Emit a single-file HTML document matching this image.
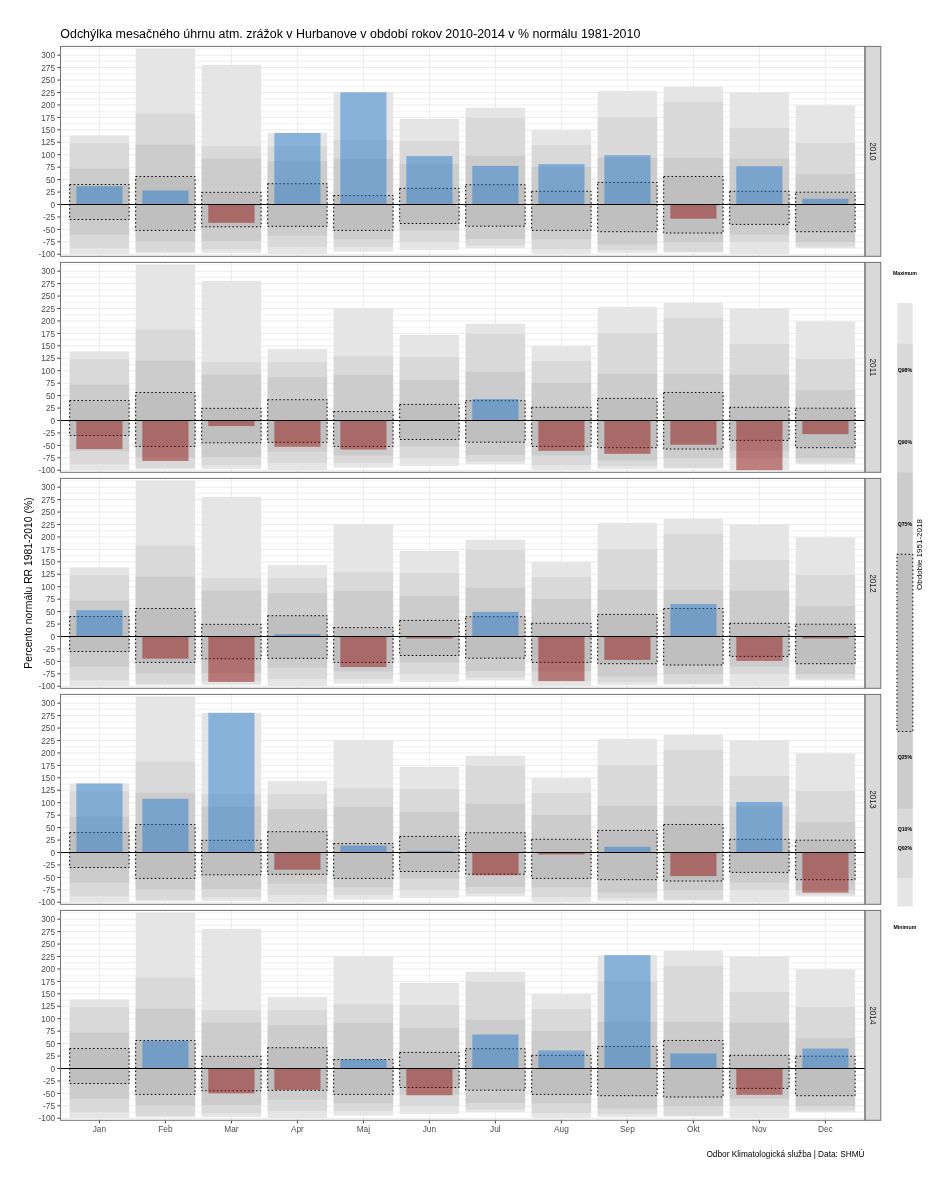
<!DOCTYPE html>
<html lang="sk">
<head>
<meta charset="utf-8">
<title>Odchýlka mesačného úhrnu atm. zrážok v Hurbanove</title>
<style>
html,body{margin:0;padding:0;background:#fff;}
body{width:933px;height:1200px;overflow:hidden;font-family:"Liberation Sans", Arial, Helvetica, sans-serif;}
svg{display:block;}
</style>
</head>
<body>
<svg width="933" height="1200" viewBox="0 0 933 1200" font-family='"Liberation Sans", Arial, Helvetica, sans-serif'>
<rect width="933" height="1200" fill="#fff"/>
<text x="60.3" y="38.3" font-size="12.44" fill="#000">Odchýlka mesačného úhrnu atm. zrážok v Hurbanove v období rokov 2010-2014 v % normálu 1981-2010</text>
<g>
<clipPath id="cp0"><rect x="60.5" y="46.4" width="804.5" height="209.9"/></clipPath>
<g clip-path="url(#cp0)">
<path d="M60.5 248.06H865M60.5 235.61H865M60.5 223.17H865M60.5 210.72H865M60.5 198.28H865M60.5 185.83H865M60.5 173.39H865M60.5 160.94H865M60.5 148.5H865M60.5 136.05H865M60.5 123.61H865M60.5 111.16H865M60.5 98.72H865M60.5 86.27H865M60.5 73.83H865M60.5 61.38H865M60.5 48.94H865" stroke="#ebebeb" stroke-width="0.7" fill="none"/>
<path d="M60.5 254.28H865M60.5 241.84H865M60.5 229.39H865M60.5 216.94H865M60.5 204.5H865M60.5 192.06H865M60.5 179.61H865M60.5 167.16H865M60.5 154.72H865M60.5 142.28H865M60.5 129.83H865M60.5 117.38H865M60.5 104.94H865M60.5 92.49H865M60.5 80.05H865M60.5 67.6H865M60.5 55.16H865M99.4 46.4V256.3M165.4 46.4V256.3M231.4 46.4V256.3M297.4 46.4V256.3M363.4 46.4V256.3M429.4 46.4V256.3M495.4 46.4V256.3M561.4 46.4V256.3M627.4 46.4V256.3M693.4 46.4V256.3M759.4 46.4V256.3M825.4 46.4V256.3" stroke="#ebebeb" stroke-width="1.0" fill="none"/>
<g fill="#e5e5e5">
<rect x="69.7" y="135.46" width="59.4" height="118.63"/>
<rect x="135.7" y="48.54" width="59.4" height="204.75"/>
<rect x="201.7" y="64.82" width="59.4" height="188.12"/>
<rect x="267.7" y="132.92" width="59.4" height="121.16"/>
<rect x="333.7" y="92.25" width="59.4" height="159.4"/>
<rect x="399.7" y="118.93" width="59.4" height="131.12"/>
<rect x="465.7" y="107.68" width="59.4" height="140.48"/>
<rect x="531.7" y="130.18" width="59.4" height="123.6"/>
<rect x="597.7" y="91.1" width="59.4" height="161.93"/>
<rect x="663.7" y="86.62" width="59.4" height="165.97"/>
<rect x="729.7" y="92.79" width="59.4" height="161.34"/>
<rect x="795.7" y="105.34" width="59.4" height="142.77"/>
</g>
<g fill="#d9d9d9">
<rect x="69.7" y="143.37" width="59.4" height="104.54"/>
<rect x="135.7" y="113.4" width="59.4" height="138.39"/>
<rect x="201.7" y="146.16" width="59.4" height="102.95"/>
<rect x="267.7" y="146.11" width="59.4" height="100.8"/>
<rect x="333.7" y="140.13" width="59.4" height="106.83"/>
<rect x="399.7" y="141.23" width="59.4" height="100.75"/>
<rect x="465.7" y="117.63" width="59.4" height="127.84"/>
<rect x="531.7" y="145.01" width="59.4" height="103.99"/>
<rect x="597.7" y="117.24" width="59.4" height="132.91"/>
<rect x="663.7" y="101.7" width="59.4" height="149.94"/>
<rect x="729.7" y="128.04" width="59.4" height="113.95"/>
<rect x="795.7" y="143.12" width="59.4" height="103.19"/>
</g>
<g fill="#cccccc">
<rect x="69.7" y="168.81" width="59.4" height="65.91"/>
<rect x="135.7" y="144.81" width="59.4" height="96.52"/>
<rect x="201.7" y="158.55" width="59.4" height="82.49"/>
<rect x="267.7" y="161.19" width="59.4" height="74.47"/>
<rect x="333.7" y="158.85" width="59.4" height="80.59"/>
<rect x="399.7" y="164.13" width="59.4" height="66.46"/>
<rect x="465.7" y="155.86" width="59.4" height="83.13"/>
<rect x="531.7" y="166.92" width="59.4" height="72.53"/>
<rect x="597.7" y="157.76" width="59.4" height="86.82"/>
<rect x="663.7" y="158.01" width="59.4" height="83.98"/>
<rect x="729.7" y="158.6" width="59.4" height="76.06"/>
<rect x="795.7" y="174.13" width="59.4" height="67.85"/>
</g>
<g fill="#bfbfbf">
<rect x="69.7" y="184.54" width="59.4" height="35"/>
<rect x="135.7" y="176.52" width="59.4" height="53.86"/>
<rect x="201.7" y="192.35" width="59.4" height="34.45"/>
<rect x="267.7" y="183.69" width="59.4" height="42.61"/>
<rect x="333.7" y="195.59" width="59.4" height="34.8"/>
<rect x="399.7" y="188.37" width="59.4" height="35.14"/>
<rect x="465.7" y="184.74" width="59.4" height="41.42"/>
<rect x="531.7" y="191.31" width="59.4" height="39.03"/>
<rect x="597.7" y="182.4" width="59.4" height="49.28"/>
<rect x="663.7" y="176.47" width="59.4" height="56.55"/>
<rect x="729.7" y="191.31" width="59.4" height="33.1"/>
<rect x="795.7" y="192.2" width="59.4" height="39.48"/>
</g>
<g fill="none" stroke="#000" stroke-width="1.0" stroke-dasharray="1.5 2.4">
<rect x="69.7" y="184.54" width="59.4" height="35"/>
<rect x="135.7" y="176.52" width="59.4" height="53.86"/>
<rect x="201.7" y="192.35" width="59.4" height="34.45"/>
<rect x="267.7" y="183.69" width="59.4" height="42.61"/>
<rect x="333.7" y="195.59" width="59.4" height="34.8"/>
<rect x="399.7" y="188.37" width="59.4" height="35.14"/>
<rect x="465.7" y="184.74" width="59.4" height="41.42"/>
<rect x="531.7" y="191.31" width="59.4" height="39.03"/>
<rect x="597.7" y="182.4" width="59.4" height="49.28"/>
<rect x="663.7" y="176.47" width="59.4" height="56.55"/>
<rect x="729.7" y="191.31" width="59.4" height="33.1"/>
<rect x="795.7" y="192.2" width="59.4" height="39.48"/>
</g>
<rect x="76.3" y="186.23" width="46.2" height="18.27" fill="#1874cd" fill-opacity="0.45"/>
<rect x="142.3" y="190.46" width="46.2" height="14.04" fill="#1874cd" fill-opacity="0.45"/>
<rect x="208.3" y="204.5" width="46.2" height="18.32" fill="#8b0000" fill-opacity="0.45"/>
<rect x="274.3" y="132.92" width="46.2" height="71.58" fill="#1874cd" fill-opacity="0.45"/>
<rect x="340.3" y="92.25" width="46.2" height="112.25" fill="#1874cd" fill-opacity="0.45"/>
<rect x="406.3" y="156.06" width="46.2" height="48.44" fill="#1874cd" fill-opacity="0.45"/>
<rect x="472.3" y="165.87" width="46.2" height="38.63" fill="#1874cd" fill-opacity="0.45"/>
<rect x="538.3" y="164.13" width="46.2" height="40.37" fill="#1874cd" fill-opacity="0.45"/>
<rect x="604.3" y="155.22" width="46.2" height="49.28" fill="#1874cd" fill-opacity="0.45"/>
<rect x="670.3" y="204.5" width="46.2" height="14.19" fill="#8b0000" fill-opacity="0.45"/>
<rect x="736.3" y="166.27" width="46.2" height="38.23" fill="#1874cd" fill-opacity="0.45"/>
<rect x="802.3" y="198.78" width="46.2" height="5.72" fill="#1874cd" fill-opacity="0.45"/>
<path d="M60.5 204.5H865" stroke="#000" stroke-width="1.0"/>
</g>
<rect x="865" y="46.4" width="15.8" height="209.9" fill="#d9d9d9" stroke="#727272" stroke-width="1.0"/>
<text transform="translate(869.8 151.35) rotate(90)" text-anchor="middle" font-size="8.29" fill="#1a1a1a">2010</text>
<rect x="60.5" y="46.4" width="804.5" height="209.9" fill="none" stroke="#727272" stroke-width="1.0"/>
<g font-size="8.29" fill="#4d4d4d" text-anchor="end">
<text x="55.1" y="257.43">-100</text>
<text x="55.1" y="244.99">-75</text>
<text x="55.1" y="232.54">-50</text>
<text x="55.1" y="220.09">-25</text>
<text x="55.1" y="207.65">0</text>
<text x="55.1" y="195.21">25</text>
<text x="55.1" y="182.76">50</text>
<text x="55.1" y="170.31">75</text>
<text x="55.1" y="157.87">100</text>
<text x="55.1" y="145.43">125</text>
<text x="55.1" y="132.98">150</text>
<text x="55.1" y="120.53">175</text>
<text x="55.1" y="108.09">200</text>
<text x="55.1" y="95.64">225</text>
<text x="55.1" y="83.2">250</text>
<text x="55.1" y="70.75">275</text>
<text x="55.1" y="58.31">300</text>
</g>
<path d="M57.41 254.28H60M57.41 241.84H60M57.41 229.39H60M57.41 216.94H60M57.41 204.5H60M57.41 192.06H60M57.41 179.61H60M57.41 167.16H60M57.41 154.72H60M57.41 142.28H60M57.41 129.83H60M57.41 117.38H60M57.41 104.94H60M57.41 92.49H60M57.41 80.05H60M57.41 67.6H60M57.41 55.16H60" stroke="#3a3a3a" stroke-width="1.0" fill="none"/>
</g>
<g>
<clipPath id="cp1"><rect x="60.5" y="262.4" width="804.5" height="209.9"/></clipPath>
<g clip-path="url(#cp1)">
<path d="M60.5 464.06H865M60.5 451.61H865M60.5 439.17H865M60.5 426.72H865M60.5 414.28H865M60.5 401.83H865M60.5 389.39H865M60.5 376.94H865M60.5 364.5H865M60.5 352.05H865M60.5 339.61H865M60.5 327.16H865M60.5 314.72H865M60.5 302.27H865M60.5 289.83H865M60.5 277.38H865M60.5 264.94H865" stroke="#ebebeb" stroke-width="0.7" fill="none"/>
<path d="M60.5 470.28H865M60.5 457.83H865M60.5 445.39H865M60.5 432.94H865M60.5 420.5H865M60.5 408.06H865M60.5 395.61H865M60.5 383.17H865M60.5 370.72H865M60.5 358.27H865M60.5 345.83H865M60.5 333.38H865M60.5 320.94H865M60.5 308.5H865M60.5 296.05H865M60.5 283.61H865M60.5 271.16H865M99.4 262.4V472.3M165.4 262.4V472.3M231.4 262.4V472.3M297.4 262.4V472.3M363.4 262.4V472.3M429.4 262.4V472.3M495.4 262.4V472.3M561.4 262.4V472.3M627.4 262.4V472.3M693.4 262.4V472.3M759.4 262.4V472.3M825.4 262.4V472.3" stroke="#ebebeb" stroke-width="1.0" fill="none"/>
<g fill="#e5e5e5">
<rect x="69.7" y="351.46" width="59.4" height="118.63"/>
<rect x="135.7" y="264.54" width="59.4" height="204.75"/>
<rect x="201.7" y="280.82" width="59.4" height="188.12"/>
<rect x="267.7" y="348.92" width="59.4" height="121.16"/>
<rect x="333.7" y="308.25" width="59.4" height="159.4"/>
<rect x="399.7" y="334.93" width="59.4" height="131.12"/>
<rect x="465.7" y="323.68" width="59.4" height="140.48"/>
<rect x="531.7" y="346.18" width="59.4" height="123.6"/>
<rect x="597.7" y="307.1" width="59.4" height="161.93"/>
<rect x="663.7" y="302.62" width="59.4" height="165.97"/>
<rect x="729.7" y="308.79" width="59.4" height="161.34"/>
<rect x="795.7" y="321.34" width="59.4" height="142.77"/>
</g>
<g fill="#d9d9d9">
<rect x="69.7" y="359.37" width="59.4" height="104.54"/>
<rect x="135.7" y="329.4" width="59.4" height="138.39"/>
<rect x="201.7" y="362.16" width="59.4" height="102.95"/>
<rect x="267.7" y="362.11" width="59.4" height="100.8"/>
<rect x="333.7" y="356.13" width="59.4" height="106.83"/>
<rect x="399.7" y="357.23" width="59.4" height="100.75"/>
<rect x="465.7" y="333.63" width="59.4" height="127.84"/>
<rect x="531.7" y="361.01" width="59.4" height="103.99"/>
<rect x="597.7" y="333.24" width="59.4" height="132.91"/>
<rect x="663.7" y="317.7" width="59.4" height="149.94"/>
<rect x="729.7" y="344.04" width="59.4" height="113.95"/>
<rect x="795.7" y="359.12" width="59.4" height="103.19"/>
</g>
<g fill="#cccccc">
<rect x="69.7" y="384.81" width="59.4" height="65.91"/>
<rect x="135.7" y="360.81" width="59.4" height="96.52"/>
<rect x="201.7" y="374.55" width="59.4" height="82.49"/>
<rect x="267.7" y="377.19" width="59.4" height="74.47"/>
<rect x="333.7" y="374.85" width="59.4" height="80.59"/>
<rect x="399.7" y="380.13" width="59.4" height="66.46"/>
<rect x="465.7" y="371.86" width="59.4" height="83.13"/>
<rect x="531.7" y="382.92" width="59.4" height="72.53"/>
<rect x="597.7" y="373.76" width="59.4" height="86.82"/>
<rect x="663.7" y="374.01" width="59.4" height="83.98"/>
<rect x="729.7" y="374.6" width="59.4" height="76.06"/>
<rect x="795.7" y="390.13" width="59.4" height="67.85"/>
</g>
<g fill="#bfbfbf">
<rect x="69.7" y="400.54" width="59.4" height="35"/>
<rect x="135.7" y="392.52" width="59.4" height="53.86"/>
<rect x="201.7" y="408.35" width="59.4" height="34.45"/>
<rect x="267.7" y="399.69" width="59.4" height="42.61"/>
<rect x="333.7" y="411.59" width="59.4" height="34.8"/>
<rect x="399.7" y="404.37" width="59.4" height="35.14"/>
<rect x="465.7" y="400.74" width="59.4" height="41.42"/>
<rect x="531.7" y="407.31" width="59.4" height="39.03"/>
<rect x="597.7" y="398.4" width="59.4" height="49.28"/>
<rect x="663.7" y="392.47" width="59.4" height="56.55"/>
<rect x="729.7" y="407.31" width="59.4" height="33.1"/>
<rect x="795.7" y="408.2" width="59.4" height="39.48"/>
</g>
<g fill="none" stroke="#000" stroke-width="1.0" stroke-dasharray="1.5 2.4">
<rect x="69.7" y="400.54" width="59.4" height="35"/>
<rect x="135.7" y="392.52" width="59.4" height="53.86"/>
<rect x="201.7" y="408.35" width="59.4" height="34.45"/>
<rect x="267.7" y="399.69" width="59.4" height="42.61"/>
<rect x="333.7" y="411.59" width="59.4" height="34.8"/>
<rect x="399.7" y="404.37" width="59.4" height="35.14"/>
<rect x="465.7" y="400.74" width="59.4" height="41.42"/>
<rect x="531.7" y="407.31" width="59.4" height="39.03"/>
<rect x="597.7" y="398.4" width="59.4" height="49.28"/>
<rect x="663.7" y="392.47" width="59.4" height="56.55"/>
<rect x="729.7" y="407.31" width="59.4" height="33.1"/>
<rect x="795.7" y="408.2" width="59.4" height="39.48"/>
</g>
<rect x="76.3" y="420.5" width="46.2" height="28.57" fill="#8b0000" fill-opacity="0.45"/>
<rect x="142.3" y="420.5" width="46.2" height="40.47" fill="#8b0000" fill-opacity="0.45"/>
<rect x="208.3" y="420.5" width="46.2" height="5.48" fill="#8b0000" fill-opacity="0.45"/>
<rect x="274.3" y="420.5" width="46.2" height="26.33" fill="#8b0000" fill-opacity="0.45"/>
<rect x="340.3" y="420.5" width="46.2" height="29.07" fill="#8b0000" fill-opacity="0.45"/>
<rect x="406.3" y="420" width="46.2" height="0.5" fill="#1874cd" fill-opacity="0.45"/>
<rect x="472.3" y="399.04" width="46.2" height="21.46" fill="#1874cd" fill-opacity="0.45"/>
<rect x="538.3" y="420.5" width="46.2" height="30.37" fill="#8b0000" fill-opacity="0.45"/>
<rect x="604.3" y="420.5" width="46.2" height="33.35" fill="#8b0000" fill-opacity="0.45"/>
<rect x="670.3" y="420.5" width="46.2" height="24.19" fill="#8b0000" fill-opacity="0.45"/>
<rect x="736.3" y="420.5" width="46.2" height="49.68" fill="#8b0000" fill-opacity="0.45"/>
<rect x="802.3" y="420.5" width="46.2" height="13.59" fill="#8b0000" fill-opacity="0.45"/>
<path d="M60.5 420.5H865" stroke="#000" stroke-width="1.0"/>
</g>
<rect x="865" y="262.4" width="15.8" height="209.9" fill="#d9d9d9" stroke="#727272" stroke-width="1.0"/>
<text transform="translate(869.8 367.35) rotate(90)" text-anchor="middle" font-size="8.29" fill="#1a1a1a">2011</text>
<rect x="60.5" y="262.4" width="804.5" height="209.9" fill="none" stroke="#727272" stroke-width="1.0"/>
<g font-size="8.29" fill="#4d4d4d" text-anchor="end">
<text x="55.1" y="473.43">-100</text>
<text x="55.1" y="460.98">-75</text>
<text x="55.1" y="448.54">-50</text>
<text x="55.1" y="436.09">-25</text>
<text x="55.1" y="423.65">0</text>
<text x="55.1" y="411.2">25</text>
<text x="55.1" y="398.76">50</text>
<text x="55.1" y="386.31">75</text>
<text x="55.1" y="373.87">100</text>
<text x="55.1" y="361.42">125</text>
<text x="55.1" y="348.98">150</text>
<text x="55.1" y="336.53">175</text>
<text x="55.1" y="324.09">200</text>
<text x="55.1" y="311.64">225</text>
<text x="55.1" y="299.2">250</text>
<text x="55.1" y="286.75">275</text>
<text x="55.1" y="274.31">300</text>
</g>
<path d="M57.41 470.28H60M57.41 457.83H60M57.41 445.39H60M57.41 432.94H60M57.41 420.5H60M57.41 408.06H60M57.41 395.61H60M57.41 383.17H60M57.41 370.72H60M57.41 358.27H60M57.41 345.83H60M57.41 333.38H60M57.41 320.94H60M57.41 308.5H60M57.41 296.05H60M57.41 283.61H60M57.41 271.16H60" stroke="#3a3a3a" stroke-width="1.0" fill="none"/>
</g>
<g>
<clipPath id="cp2"><rect x="60.5" y="478.4" width="804.5" height="209.9"/></clipPath>
<g clip-path="url(#cp2)">
<path d="M60.5 680.06H865M60.5 667.61H865M60.5 655.17H865M60.5 642.72H865M60.5 630.28H865M60.5 617.83H865M60.5 605.39H865M60.5 592.94H865M60.5 580.5H865M60.5 568.05H865M60.5 555.61H865M60.5 543.16H865M60.5 530.72H865M60.5 518.27H865M60.5 505.83H865M60.5 493.38H865M60.5 480.94H865" stroke="#ebebeb" stroke-width="0.7" fill="none"/>
<path d="M60.5 686.28H865M60.5 673.84H865M60.5 661.39H865M60.5 648.95H865M60.5 636.5H865M60.5 624.05H865M60.5 611.61H865M60.5 599.16H865M60.5 586.72H865M60.5 574.27H865M60.5 561.83H865M60.5 549.38H865M60.5 536.94H865M60.5 524.5H865M60.5 512.05H865M60.5 499.61H865M60.5 487.16H865M99.4 478.4V688.3M165.4 478.4V688.3M231.4 478.4V688.3M297.4 478.4V688.3M363.4 478.4V688.3M429.4 478.4V688.3M495.4 478.4V688.3M561.4 478.4V688.3M627.4 478.4V688.3M693.4 478.4V688.3M759.4 478.4V688.3M825.4 478.4V688.3" stroke="#ebebeb" stroke-width="1.0" fill="none"/>
<g fill="#e5e5e5">
<rect x="69.7" y="567.46" width="59.4" height="118.63"/>
<rect x="135.7" y="480.54" width="59.4" height="204.75"/>
<rect x="201.7" y="496.82" width="59.4" height="188.12"/>
<rect x="267.7" y="564.92" width="59.4" height="121.16"/>
<rect x="333.7" y="524.25" width="59.4" height="159.4"/>
<rect x="399.7" y="550.93" width="59.4" height="131.12"/>
<rect x="465.7" y="539.68" width="59.4" height="140.48"/>
<rect x="531.7" y="562.18" width="59.4" height="123.6"/>
<rect x="597.7" y="523.1" width="59.4" height="161.93"/>
<rect x="663.7" y="518.62" width="59.4" height="165.97"/>
<rect x="729.7" y="524.79" width="59.4" height="161.34"/>
<rect x="795.7" y="537.34" width="59.4" height="142.77"/>
</g>
<g fill="#d9d9d9">
<rect x="69.7" y="575.37" width="59.4" height="104.54"/>
<rect x="135.7" y="545.4" width="59.4" height="138.39"/>
<rect x="201.7" y="578.16" width="59.4" height="102.95"/>
<rect x="267.7" y="578.11" width="59.4" height="100.8"/>
<rect x="333.7" y="572.13" width="59.4" height="106.83"/>
<rect x="399.7" y="573.23" width="59.4" height="100.75"/>
<rect x="465.7" y="549.63" width="59.4" height="127.84"/>
<rect x="531.7" y="577.01" width="59.4" height="103.99"/>
<rect x="597.7" y="549.24" width="59.4" height="132.91"/>
<rect x="663.7" y="533.7" width="59.4" height="149.94"/>
<rect x="729.7" y="560.04" width="59.4" height="113.95"/>
<rect x="795.7" y="575.12" width="59.4" height="103.19"/>
</g>
<g fill="#cccccc">
<rect x="69.7" y="600.81" width="59.4" height="65.91"/>
<rect x="135.7" y="576.81" width="59.4" height="96.52"/>
<rect x="201.7" y="590.55" width="59.4" height="82.49"/>
<rect x="267.7" y="593.19" width="59.4" height="74.47"/>
<rect x="333.7" y="590.85" width="59.4" height="80.59"/>
<rect x="399.7" y="596.13" width="59.4" height="66.46"/>
<rect x="465.7" y="587.86" width="59.4" height="83.13"/>
<rect x="531.7" y="598.92" width="59.4" height="72.53"/>
<rect x="597.7" y="589.76" width="59.4" height="86.82"/>
<rect x="663.7" y="590.01" width="59.4" height="83.98"/>
<rect x="729.7" y="590.6" width="59.4" height="76.06"/>
<rect x="795.7" y="606.13" width="59.4" height="67.85"/>
</g>
<g fill="#bfbfbf">
<rect x="69.7" y="616.54" width="59.4" height="35"/>
<rect x="135.7" y="608.52" width="59.4" height="53.86"/>
<rect x="201.7" y="624.35" width="59.4" height="34.45"/>
<rect x="267.7" y="615.69" width="59.4" height="42.61"/>
<rect x="333.7" y="627.59" width="59.4" height="34.8"/>
<rect x="399.7" y="620.37" width="59.4" height="35.14"/>
<rect x="465.7" y="616.74" width="59.4" height="41.42"/>
<rect x="531.7" y="623.31" width="59.4" height="39.03"/>
<rect x="597.7" y="614.4" width="59.4" height="49.28"/>
<rect x="663.7" y="608.47" width="59.4" height="56.55"/>
<rect x="729.7" y="623.31" width="59.4" height="33.1"/>
<rect x="795.7" y="624.2" width="59.4" height="39.48"/>
</g>
<g fill="none" stroke="#000" stroke-width="1.0" stroke-dasharray="1.5 2.4">
<rect x="69.7" y="616.54" width="59.4" height="35"/>
<rect x="135.7" y="608.52" width="59.4" height="53.86"/>
<rect x="201.7" y="624.35" width="59.4" height="34.45"/>
<rect x="267.7" y="615.69" width="59.4" height="42.61"/>
<rect x="333.7" y="627.59" width="59.4" height="34.8"/>
<rect x="399.7" y="620.37" width="59.4" height="35.14"/>
<rect x="465.7" y="616.74" width="59.4" height="41.42"/>
<rect x="531.7" y="623.31" width="59.4" height="39.03"/>
<rect x="597.7" y="614.4" width="59.4" height="49.28"/>
<rect x="663.7" y="608.47" width="59.4" height="56.55"/>
<rect x="729.7" y="623.31" width="59.4" height="33.1"/>
<rect x="795.7" y="624.2" width="59.4" height="39.48"/>
</g>
<rect x="76.3" y="610.17" width="46.2" height="26.33" fill="#1874cd" fill-opacity="0.45"/>
<rect x="142.3" y="636.5" width="46.2" height="22.1" fill="#8b0000" fill-opacity="0.45"/>
<rect x="208.3" y="636.5" width="46.2" height="45.45" fill="#8b0000" fill-opacity="0.45"/>
<rect x="274.3" y="634.16" width="46.2" height="2.34" fill="#1874cd" fill-opacity="0.45"/>
<rect x="340.3" y="636.5" width="46.2" height="30.56" fill="#8b0000" fill-opacity="0.45"/>
<rect x="406.3" y="636.5" width="46.2" height="1.99" fill="#8b0000" fill-opacity="0.45"/>
<rect x="472.3" y="611.86" width="46.2" height="24.64" fill="#1874cd" fill-opacity="0.45"/>
<rect x="538.3" y="636.5" width="46.2" height="44.6" fill="#8b0000" fill-opacity="0.45"/>
<rect x="604.3" y="636.5" width="46.2" height="23.35" fill="#8b0000" fill-opacity="0.45"/>
<rect x="670.3" y="603.99" width="46.2" height="32.51" fill="#1874cd" fill-opacity="0.45"/>
<rect x="736.3" y="636.5" width="46.2" height="24.44" fill="#8b0000" fill-opacity="0.45"/>
<rect x="802.3" y="636.5" width="46.2" height="1.99" fill="#8b0000" fill-opacity="0.45"/>
<path d="M60.5 636.5H865" stroke="#000" stroke-width="1.0"/>
</g>
<rect x="865" y="478.4" width="15.8" height="209.9" fill="#d9d9d9" stroke="#727272" stroke-width="1.0"/>
<text transform="translate(869.8 583.35) rotate(90)" text-anchor="middle" font-size="8.29" fill="#1a1a1a">2012</text>
<rect x="60.5" y="478.4" width="804.5" height="209.9" fill="none" stroke="#727272" stroke-width="1.0"/>
<g font-size="8.29" fill="#4d4d4d" text-anchor="end">
<text x="55.1" y="689.43">-100</text>
<text x="55.1" y="676.99">-75</text>
<text x="55.1" y="664.54">-50</text>
<text x="55.1" y="652.1">-25</text>
<text x="55.1" y="639.65">0</text>
<text x="55.1" y="627.2">25</text>
<text x="55.1" y="614.76">50</text>
<text x="55.1" y="602.31">75</text>
<text x="55.1" y="589.87">100</text>
<text x="55.1" y="577.42">125</text>
<text x="55.1" y="564.98">150</text>
<text x="55.1" y="552.53">175</text>
<text x="55.1" y="540.09">200</text>
<text x="55.1" y="527.64">225</text>
<text x="55.1" y="515.2">250</text>
<text x="55.1" y="502.75">275</text>
<text x="55.1" y="490.31">300</text>
</g>
<path d="M57.41 686.28H60M57.41 673.84H60M57.41 661.39H60M57.41 648.95H60M57.41 636.5H60M57.41 624.05H60M57.41 611.61H60M57.41 599.16H60M57.41 586.72H60M57.41 574.27H60M57.41 561.83H60M57.41 549.38H60M57.41 536.94H60M57.41 524.5H60M57.41 512.05H60M57.41 499.61H60M57.41 487.16H60" stroke="#3a3a3a" stroke-width="1.0" fill="none"/>
</g>
<g>
<clipPath id="cp3"><rect x="60.5" y="694.4" width="804.5" height="209.9"/></clipPath>
<g clip-path="url(#cp3)">
<path d="M60.5 896.06H865M60.5 883.61H865M60.5 871.17H865M60.5 858.72H865M60.5 846.28H865M60.5 833.83H865M60.5 821.39H865M60.5 808.94H865M60.5 796.5H865M60.5 784.05H865M60.5 771.61H865M60.5 759.16H865M60.5 746.72H865M60.5 734.27H865M60.5 721.83H865M60.5 709.38H865M60.5 696.94H865" stroke="#ebebeb" stroke-width="0.7" fill="none"/>
<path d="M60.5 902.28H865M60.5 889.84H865M60.5 877.39H865M60.5 864.95H865M60.5 852.5H865M60.5 840.05H865M60.5 827.61H865M60.5 815.16H865M60.5 802.72H865M60.5 790.27H865M60.5 777.83H865M60.5 765.38H865M60.5 752.94H865M60.5 740.5H865M60.5 728.05H865M60.5 715.61H865M60.5 703.16H865M99.4 694.4V904.3M165.4 694.4V904.3M231.4 694.4V904.3M297.4 694.4V904.3M363.4 694.4V904.3M429.4 694.4V904.3M495.4 694.4V904.3M561.4 694.4V904.3M627.4 694.4V904.3M693.4 694.4V904.3M759.4 694.4V904.3M825.4 694.4V904.3" stroke="#ebebeb" stroke-width="1.0" fill="none"/>
<g fill="#e5e5e5">
<rect x="69.7" y="783.46" width="59.4" height="118.63"/>
<rect x="135.7" y="696.54" width="59.4" height="204.75"/>
<rect x="201.7" y="712.82" width="59.4" height="188.12"/>
<rect x="267.7" y="780.92" width="59.4" height="121.16"/>
<rect x="333.7" y="740.25" width="59.4" height="159.4"/>
<rect x="399.7" y="766.93" width="59.4" height="131.12"/>
<rect x="465.7" y="755.68" width="59.4" height="140.48"/>
<rect x="531.7" y="778.18" width="59.4" height="123.6"/>
<rect x="597.7" y="739.1" width="59.4" height="161.93"/>
<rect x="663.7" y="734.62" width="59.4" height="165.97"/>
<rect x="729.7" y="740.79" width="59.4" height="161.34"/>
<rect x="795.7" y="753.34" width="59.4" height="142.77"/>
</g>
<g fill="#d9d9d9">
<rect x="69.7" y="791.37" width="59.4" height="104.54"/>
<rect x="135.7" y="761.4" width="59.4" height="138.39"/>
<rect x="201.7" y="794.16" width="59.4" height="102.95"/>
<rect x="267.7" y="794.11" width="59.4" height="100.8"/>
<rect x="333.7" y="788.13" width="59.4" height="106.83"/>
<rect x="399.7" y="789.23" width="59.4" height="100.75"/>
<rect x="465.7" y="765.63" width="59.4" height="127.84"/>
<rect x="531.7" y="793.01" width="59.4" height="103.99"/>
<rect x="597.7" y="765.24" width="59.4" height="132.91"/>
<rect x="663.7" y="749.7" width="59.4" height="149.94"/>
<rect x="729.7" y="776.04" width="59.4" height="113.95"/>
<rect x="795.7" y="791.12" width="59.4" height="103.19"/>
</g>
<g fill="#cccccc">
<rect x="69.7" y="816.81" width="59.4" height="65.91"/>
<rect x="135.7" y="792.81" width="59.4" height="96.52"/>
<rect x="201.7" y="806.55" width="59.4" height="82.49"/>
<rect x="267.7" y="809.19" width="59.4" height="74.47"/>
<rect x="333.7" y="806.85" width="59.4" height="80.59"/>
<rect x="399.7" y="812.13" width="59.4" height="66.46"/>
<rect x="465.7" y="803.86" width="59.4" height="83.13"/>
<rect x="531.7" y="814.92" width="59.4" height="72.53"/>
<rect x="597.7" y="805.76" width="59.4" height="86.82"/>
<rect x="663.7" y="806.01" width="59.4" height="83.98"/>
<rect x="729.7" y="806.6" width="59.4" height="76.06"/>
<rect x="795.7" y="822.13" width="59.4" height="67.85"/>
</g>
<g fill="#bfbfbf">
<rect x="69.7" y="832.54" width="59.4" height="35"/>
<rect x="135.7" y="824.52" width="59.4" height="53.86"/>
<rect x="201.7" y="840.35" width="59.4" height="34.45"/>
<rect x="267.7" y="831.69" width="59.4" height="42.61"/>
<rect x="333.7" y="843.59" width="59.4" height="34.8"/>
<rect x="399.7" y="836.37" width="59.4" height="35.14"/>
<rect x="465.7" y="832.74" width="59.4" height="41.42"/>
<rect x="531.7" y="839.31" width="59.4" height="39.03"/>
<rect x="597.7" y="830.4" width="59.4" height="49.28"/>
<rect x="663.7" y="824.47" width="59.4" height="56.55"/>
<rect x="729.7" y="839.31" width="59.4" height="33.1"/>
<rect x="795.7" y="840.2" width="59.4" height="39.48"/>
</g>
<g fill="none" stroke="#000" stroke-width="1.0" stroke-dasharray="1.5 2.4">
<rect x="69.7" y="832.54" width="59.4" height="35"/>
<rect x="135.7" y="824.52" width="59.4" height="53.86"/>
<rect x="201.7" y="840.35" width="59.4" height="34.45"/>
<rect x="267.7" y="831.69" width="59.4" height="42.61"/>
<rect x="333.7" y="843.59" width="59.4" height="34.8"/>
<rect x="399.7" y="836.37" width="59.4" height="35.14"/>
<rect x="465.7" y="832.74" width="59.4" height="41.42"/>
<rect x="531.7" y="839.31" width="59.4" height="39.03"/>
<rect x="597.7" y="830.4" width="59.4" height="49.28"/>
<rect x="663.7" y="824.47" width="59.4" height="56.55"/>
<rect x="729.7" y="839.31" width="59.4" height="33.1"/>
<rect x="795.7" y="840.2" width="59.4" height="39.48"/>
</g>
<rect x="76.3" y="783.46" width="46.2" height="69.04" fill="#1874cd" fill-opacity="0.45"/>
<rect x="142.3" y="798.79" width="46.2" height="53.71" fill="#1874cd" fill-opacity="0.45"/>
<rect x="208.3" y="712.82" width="46.2" height="139.68" fill="#1874cd" fill-opacity="0.45"/>
<rect x="274.3" y="852.5" width="46.2" height="17.22" fill="#8b0000" fill-opacity="0.45"/>
<rect x="340.3" y="845.68" width="46.2" height="6.82" fill="#1874cd" fill-opacity="0.45"/>
<rect x="406.3" y="851.01" width="46.2" height="1.49" fill="#1874cd" fill-opacity="0.45"/>
<rect x="472.3" y="852.5" width="46.2" height="22.7" fill="#8b0000" fill-opacity="0.45"/>
<rect x="538.3" y="852.5" width="46.2" height="1.99" fill="#8b0000" fill-opacity="0.45"/>
<rect x="604.3" y="846.78" width="46.2" height="5.72" fill="#1874cd" fill-opacity="0.45"/>
<rect x="670.3" y="852.5" width="46.2" height="23.6" fill="#8b0000" fill-opacity="0.45"/>
<rect x="736.3" y="801.97" width="46.2" height="50.53" fill="#1874cd" fill-opacity="0.45"/>
<rect x="802.3" y="852.5" width="46.2" height="40.12" fill="#8b0000" fill-opacity="0.45"/>
<path d="M60.5 852.5H865" stroke="#000" stroke-width="1.0"/>
</g>
<rect x="865" y="694.4" width="15.8" height="209.9" fill="#d9d9d9" stroke="#727272" stroke-width="1.0"/>
<text transform="translate(869.8 799.35) rotate(90)" text-anchor="middle" font-size="8.29" fill="#1a1a1a">2013</text>
<rect x="60.5" y="694.4" width="804.5" height="209.9" fill="none" stroke="#727272" stroke-width="1.0"/>
<g font-size="8.29" fill="#4d4d4d" text-anchor="end">
<text x="55.1" y="905.43">-100</text>
<text x="55.1" y="892.99">-75</text>
<text x="55.1" y="880.54">-50</text>
<text x="55.1" y="868.1">-25</text>
<text x="55.1" y="855.65">0</text>
<text x="55.1" y="843.2">25</text>
<text x="55.1" y="830.76">50</text>
<text x="55.1" y="818.31">75</text>
<text x="55.1" y="805.87">100</text>
<text x="55.1" y="793.42">125</text>
<text x="55.1" y="780.98">150</text>
<text x="55.1" y="768.53">175</text>
<text x="55.1" y="756.09">200</text>
<text x="55.1" y="743.64">225</text>
<text x="55.1" y="731.2">250</text>
<text x="55.1" y="718.75">275</text>
<text x="55.1" y="706.31">300</text>
</g>
<path d="M57.41 902.28H60M57.41 889.84H60M57.41 877.39H60M57.41 864.95H60M57.41 852.5H60M57.41 840.05H60M57.41 827.61H60M57.41 815.16H60M57.41 802.72H60M57.41 790.27H60M57.41 777.83H60M57.41 765.38H60M57.41 752.94H60M57.41 740.5H60M57.41 728.05H60M57.41 715.61H60M57.41 703.16H60" stroke="#3a3a3a" stroke-width="1.0" fill="none"/>
</g>
<g>
<clipPath id="cp4"><rect x="60.5" y="910.4" width="804.5" height="209.9"/></clipPath>
<g clip-path="url(#cp4)">
<path d="M60.5 1112.06H865M60.5 1099.61H865M60.5 1087.17H865M60.5 1074.72H865M60.5 1062.28H865M60.5 1049.83H865M60.5 1037.39H865M60.5 1024.94H865M60.5 1012.5H865M60.5 1000.05H865M60.5 987.61H865M60.5 975.16H865M60.5 962.72H865M60.5 950.27H865M60.5 937.83H865M60.5 925.38H865M60.5 912.94H865" stroke="#ebebeb" stroke-width="0.7" fill="none"/>
<path d="M60.5 1118.28H865M60.5 1105.84H865M60.5 1093.39H865M60.5 1080.94H865M60.5 1068.5H865M60.5 1056.06H865M60.5 1043.61H865M60.5 1031.16H865M60.5 1018.72H865M60.5 1006.27H865M60.5 993.83H865M60.5 981.38H865M60.5 968.94H865M60.5 956.5H865M60.5 944.05H865M60.5 931.61H865M60.5 919.16H865M99.4 910.4V1120.3M165.4 910.4V1120.3M231.4 910.4V1120.3M297.4 910.4V1120.3M363.4 910.4V1120.3M429.4 910.4V1120.3M495.4 910.4V1120.3M561.4 910.4V1120.3M627.4 910.4V1120.3M693.4 910.4V1120.3M759.4 910.4V1120.3M825.4 910.4V1120.3" stroke="#ebebeb" stroke-width="1.0" fill="none"/>
<g fill="#e5e5e5">
<rect x="69.7" y="999.46" width="59.4" height="118.63"/>
<rect x="135.7" y="912.54" width="59.4" height="204.75"/>
<rect x="201.7" y="928.82" width="59.4" height="188.12"/>
<rect x="267.7" y="996.92" width="59.4" height="121.16"/>
<rect x="333.7" y="956.25" width="59.4" height="159.4"/>
<rect x="399.7" y="982.93" width="59.4" height="131.12"/>
<rect x="465.7" y="971.68" width="59.4" height="140.48"/>
<rect x="531.7" y="994.18" width="59.4" height="123.6"/>
<rect x="597.7" y="955.1" width="59.4" height="161.93"/>
<rect x="663.7" y="950.62" width="59.4" height="165.97"/>
<rect x="729.7" y="956.79" width="59.4" height="161.34"/>
<rect x="795.7" y="969.34" width="59.4" height="142.77"/>
</g>
<g fill="#d9d9d9">
<rect x="69.7" y="1007.37" width="59.4" height="104.54"/>
<rect x="135.7" y="977.4" width="59.4" height="138.39"/>
<rect x="201.7" y="1010.16" width="59.4" height="102.95"/>
<rect x="267.7" y="1010.11" width="59.4" height="100.8"/>
<rect x="333.7" y="1004.13" width="59.4" height="106.83"/>
<rect x="399.7" y="1005.23" width="59.4" height="100.75"/>
<rect x="465.7" y="981.63" width="59.4" height="127.84"/>
<rect x="531.7" y="1009.01" width="59.4" height="103.99"/>
<rect x="597.7" y="981.24" width="59.4" height="132.91"/>
<rect x="663.7" y="965.7" width="59.4" height="149.94"/>
<rect x="729.7" y="992.04" width="59.4" height="113.95"/>
<rect x="795.7" y="1007.12" width="59.4" height="103.19"/>
</g>
<g fill="#cccccc">
<rect x="69.7" y="1032.81" width="59.4" height="65.91"/>
<rect x="135.7" y="1008.81" width="59.4" height="96.52"/>
<rect x="201.7" y="1022.55" width="59.4" height="82.49"/>
<rect x="267.7" y="1025.19" width="59.4" height="74.47"/>
<rect x="333.7" y="1022.85" width="59.4" height="80.59"/>
<rect x="399.7" y="1028.13" width="59.4" height="66.46"/>
<rect x="465.7" y="1019.86" width="59.4" height="83.13"/>
<rect x="531.7" y="1030.92" width="59.4" height="72.53"/>
<rect x="597.7" y="1021.76" width="59.4" height="86.82"/>
<rect x="663.7" y="1022.01" width="59.4" height="83.98"/>
<rect x="729.7" y="1022.6" width="59.4" height="76.06"/>
<rect x="795.7" y="1038.13" width="59.4" height="67.85"/>
</g>
<g fill="#bfbfbf">
<rect x="69.7" y="1048.54" width="59.4" height="35"/>
<rect x="135.7" y="1040.52" width="59.4" height="53.86"/>
<rect x="201.7" y="1056.35" width="59.4" height="34.45"/>
<rect x="267.7" y="1047.69" width="59.4" height="42.61"/>
<rect x="333.7" y="1059.59" width="59.4" height="34.8"/>
<rect x="399.7" y="1052.37" width="59.4" height="35.14"/>
<rect x="465.7" y="1048.74" width="59.4" height="41.42"/>
<rect x="531.7" y="1055.31" width="59.4" height="39.03"/>
<rect x="597.7" y="1046.4" width="59.4" height="49.28"/>
<rect x="663.7" y="1040.47" width="59.4" height="56.55"/>
<rect x="729.7" y="1055.31" width="59.4" height="33.1"/>
<rect x="795.7" y="1056.2" width="59.4" height="39.48"/>
</g>
<g fill="none" stroke="#000" stroke-width="1.0" stroke-dasharray="1.5 2.4">
<rect x="69.7" y="1048.54" width="59.4" height="35"/>
<rect x="135.7" y="1040.52" width="59.4" height="53.86"/>
<rect x="201.7" y="1056.35" width="59.4" height="34.45"/>
<rect x="267.7" y="1047.69" width="59.4" height="42.61"/>
<rect x="333.7" y="1059.59" width="59.4" height="34.8"/>
<rect x="399.7" y="1052.37" width="59.4" height="35.14"/>
<rect x="465.7" y="1048.74" width="59.4" height="41.42"/>
<rect x="531.7" y="1055.31" width="59.4" height="39.03"/>
<rect x="597.7" y="1046.4" width="59.4" height="49.28"/>
<rect x="663.7" y="1040.47" width="59.4" height="56.55"/>
<rect x="729.7" y="1055.31" width="59.4" height="33.1"/>
<rect x="795.7" y="1056.2" width="59.4" height="39.48"/>
</g>
<rect x="76.3" y="1068" width="46.2" height="0.5" fill="#1874cd" fill-opacity="0.45"/>
<rect x="142.3" y="1040.67" width="46.2" height="27.83" fill="#1874cd" fill-opacity="0.45"/>
<rect x="208.3" y="1068.5" width="46.2" height="24.84" fill="#8b0000" fill-opacity="0.45"/>
<rect x="274.3" y="1068.5" width="46.2" height="21.26" fill="#8b0000" fill-opacity="0.45"/>
<rect x="340.3" y="1059.39" width="46.2" height="9.11" fill="#1874cd" fill-opacity="0.45"/>
<rect x="406.3" y="1068.5" width="46.2" height="26.78" fill="#8b0000" fill-opacity="0.45"/>
<rect x="472.3" y="1034.5" width="46.2" height="34" fill="#1874cd" fill-opacity="0.45"/>
<rect x="538.3" y="1050.43" width="46.2" height="18.07" fill="#1874cd" fill-opacity="0.45"/>
<rect x="604.3" y="955.1" width="46.2" height="113.4" fill="#1874cd" fill-opacity="0.45"/>
<rect x="670.3" y="1053.42" width="46.2" height="15.08" fill="#1874cd" fill-opacity="0.45"/>
<rect x="736.3" y="1068.5" width="46.2" height="26.33" fill="#8b0000" fill-opacity="0.45"/>
<rect x="802.3" y="1048.54" width="46.2" height="19.96" fill="#1874cd" fill-opacity="0.45"/>
<path d="M60.5 1068.5H865" stroke="#000" stroke-width="1.0"/>
</g>
<rect x="865" y="910.4" width="15.8" height="209.9" fill="#d9d9d9" stroke="#727272" stroke-width="1.0"/>
<text transform="translate(869.8 1015.35) rotate(90)" text-anchor="middle" font-size="8.29" fill="#1a1a1a">2014</text>
<rect x="60.5" y="910.4" width="804.5" height="209.9" fill="none" stroke="#727272" stroke-width="1.0"/>
<g font-size="8.29" fill="#4d4d4d" text-anchor="end">
<text x="55.1" y="1121.43">-100</text>
<text x="55.1" y="1108.99">-75</text>
<text x="55.1" y="1096.54">-50</text>
<text x="55.1" y="1084.1">-25</text>
<text x="55.1" y="1071.65">0</text>
<text x="55.1" y="1059.21">25</text>
<text x="55.1" y="1046.76">50</text>
<text x="55.1" y="1034.32">75</text>
<text x="55.1" y="1021.87">100</text>
<text x="55.1" y="1009.42">125</text>
<text x="55.1" y="996.98">150</text>
<text x="55.1" y="984.53">175</text>
<text x="55.1" y="972.09">200</text>
<text x="55.1" y="959.64">225</text>
<text x="55.1" y="947.2">250</text>
<text x="55.1" y="934.75">275</text>
<text x="55.1" y="922.31">300</text>
</g>
<path d="M57.41 1118.28H60M57.41 1105.84H60M57.41 1093.39H60M57.41 1080.94H60M57.41 1068.5H60M57.41 1056.06H60M57.41 1043.61H60M57.41 1031.16H60M57.41 1018.72H60M57.41 1006.27H60M57.41 993.83H60M57.41 981.38H60M57.41 968.94H60M57.41 956.5H60M57.41 944.05H60M57.41 931.61H60M57.41 919.16H60" stroke="#3a3a3a" stroke-width="1.0" fill="none"/>
</g>
<g font-size="8.29" fill="#4d4d4d" text-anchor="middle">
<text x="99.4" y="1132.2">Jan</text>
<text x="165.4" y="1132.2">Feb</text>
<text x="231.4" y="1132.2">Mar</text>
<text x="297.4" y="1132.2">Apr</text>
<text x="363.4" y="1132.2">Maj</text>
<text x="429.4" y="1132.2">Jun</text>
<text x="495.4" y="1132.2">Jul</text>
<text x="561.4" y="1132.2">Aug</text>
<text x="627.4" y="1132.2">Sep</text>
<text x="693.4" y="1132.2">Okt</text>
<text x="759.4" y="1132.2">Nov</text>
<text x="825.4" y="1132.2">Dec</text>
</g>
<path d="M99.4 1120.8V1123.39M165.4 1120.8V1123.39M231.4 1120.8V1123.39M297.4 1120.8V1123.39M363.4 1120.8V1123.39M429.4 1120.8V1123.39M495.4 1120.8V1123.39M561.4 1120.8V1123.39M627.4 1120.8V1123.39M693.4 1120.8V1123.39M759.4 1120.8V1123.39M825.4 1120.8V1123.39" stroke="#3a3a3a" stroke-width="1.0" fill="none"/>
<text transform="translate(32.2 583) rotate(-90)" text-anchor="middle" font-size="10.39" fill="#000">Percento normálu RR 1981-2010 (%)</text>
<text x="864.6" y="1156.6" text-anchor="end" font-size="8.29" fill="#000">Odbor Klimatologická služba | Data: SHMÚ</text>
<rect x="897.25" y="303" width="15.34" height="603.5" fill="#e5e5e5"/>
<rect x="897.25" y="343.75" width="15.34" height="534.25" fill="#d9d9d9"/>
<rect x="897.25" y="472.5" width="15.34" height="336.25" fill="#cccccc"/>
<rect x="897.25" y="554.25" width="15.34" height="177.25" fill="#bfbfbf"/>
<rect x="896.95" y="554.25" width="15.94" height="177.25" fill="none" stroke="#000" stroke-width="1.0" stroke-dasharray="1.5 2.4"/>
<g font-size="5.2" font-weight="bold" fill="#000" text-anchor="middle">
<text x="904.9" y="274.85">Maximum</text>
<text x="904.9" y="372.1">Q98%</text>
<text x="904.9" y="443.85">Q90%</text>
<text x="904.9" y="526.35">Q75%</text>
<text x="904.9" y="758.85">Q25%</text>
<text x="904.9" y="831.1">Q10%</text>
<text x="904.9" y="849.85">Q02%</text>
<text x="904.9" y="929.35">Minimum</text>
</g>
<text transform="translate(922.3 554.5) rotate(-90)" text-anchor="middle" font-size="8.03" fill="#000">Obdobie 1951-2018</text>
</svg>
</body>
</html>
